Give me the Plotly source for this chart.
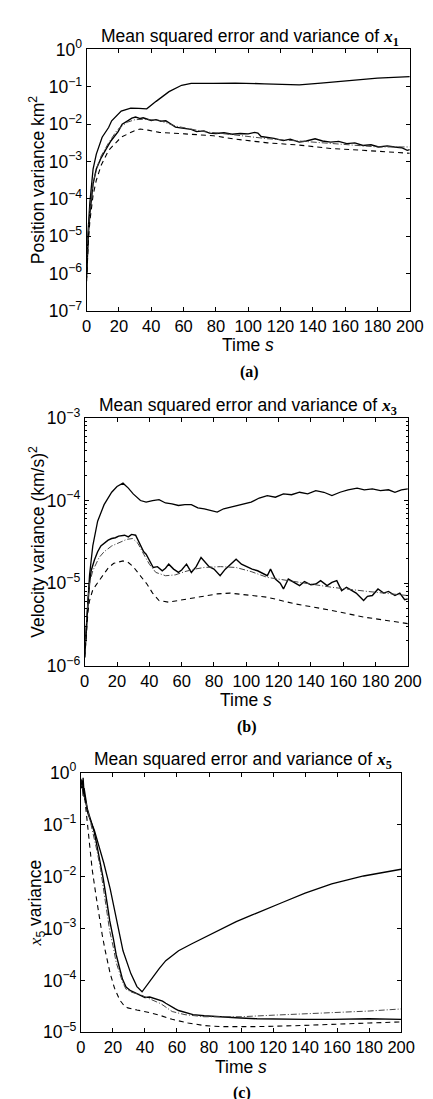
import numpy as np
import plotly.graph_objects as go

W, H = 433, 1099

# ---------------- Panel (a): x1, values given as log10 exponents ----------------
a_solid_t = [0, 0.5, 1, 2, 3, 4, 6, 9.6, 13.6, 15.5, 21.4, 27.3, 32.3, 37.2, 43, 51, 58.8, 64.7, 78.5, 92, 110, 131.6, 145, 161, 180, 200]
a_solid_log10 = [-6.0, -5.2, -4.8, -4.1, -3.6, -3.2, -2.8, -2.35, -2.09, -1.91, -1.65, -1.57, -1.58, -1.59, -1.39, -1.13, -0.96, -0.91, -0.91, -0.9, -0.92, -0.95, -0.9, -0.84, -0.77, -0.73]

a_mse_t = [0, 0.5, 1, 2, 3, 4, 6, 9, 11.6, 15, 19.5, 22, 25.4, 28, 30.3, 33.2, 35, 37.2, 40, 43, 46, 49, 52, 55, 58, 61, 64.7, 68, 72.6, 76, 80, 85, 90, 95, 100, 104, 106, 108, 112, 116, 121.7, 126, 131.6, 136, 141.4, 146, 151, 156, 161, 166, 171, 176, 180.7, 186, 190.6, 195, 198.4, 200]
a_mse_log10 = [-6.1, -5.4, -5.0, -4.4, -3.9, -3.6, -3.2, -2.9, -2.7, -2.45, -2.2, -2.0, -1.91, -1.84, -1.81, -1.85, -1.83, -1.86, -1.9, -1.88, -1.92, -1.91, -2.0, -2.08, -2.1, -2.12, -2.14, -2.2, -2.18, -2.24, -2.25, -2.23, -2.27, -2.25, -2.26, -2.22, -2.24, -2.33, -2.35, -2.38, -2.44, -2.4, -2.48, -2.45, -2.39, -2.45, -2.48, -2.46, -2.52, -2.5, -2.57, -2.55, -2.61, -2.58, -2.61, -2.63, -2.7, -2.68]

a_dashdot_t = [0, 0.5, 1, 2, 3, 4, 6, 9, 13.6, 19, 25, 30, 35, 40, 45, 55, 72.6, 90, 112, 131, 151, 170, 180, 200]
a_dashdot_log10 = [-5.8, -5.2, -4.9, -4.3, -3.9, -3.6, -3.2, -2.85, -2.5, -2.15, -1.95, -1.88, -1.87, -1.88, -1.9, -2.05, -2.2, -2.28, -2.39, -2.45, -2.52, -2.57, -2.61, -2.61]

a_dash_t = [0, 0.5, 1, 2, 3, 4, 6, 9, 13.6, 21.4, 29.3, 33.2, 38, 45, 60.8, 78.5, 92, 112, 131.6, 151, 171, 200]
a_dash_log10 = [-6.2, -5.6, -5.2, -4.6, -4.2, -3.9, -3.5, -3.1, -2.7, -2.35, -2.18, -2.13, -2.16, -2.22, -2.26, -2.31, -2.4, -2.5, -2.56, -2.65, -2.7, -2.78]

# ---------------- Panel (b): x3 ----------------
b_solid_t = [0, 1, 2, 3, 5, 8, 12, 16.7, 20, 23.7, 27, 30, 34.5, 38, 42, 46, 50, 54, 58, 62, 66, 70, 74, 78, 82, 86, 90, 93.6, 98, 103, 108, 113, 118, 123, 128, 133, 138, 143, 148, 153, 158, 163, 168.6, 173, 178, 183, 188, 192, 196, 200]
b_solid_log10 = [-5.85, -5.5, -5.2, -4.9, -4.55, -4.25, -4.05, -3.9, -3.83, -3.79, -3.85, -3.92, -4.0, -4.02, -4.0, -3.99, -4.03, -4.04, -4.06, -4.05, -4.05, -4.09, -4.1, -4.12, -4.14, -4.1, -4.08, -4.06, -4.04, -4.02, -3.97, -3.94, -3.96, -3.92, -3.93, -3.9, -3.92, -3.88, -3.9, -3.94, -3.9, -3.87, -3.85, -3.87, -3.86, -3.88, -3.87, -3.9, -3.87, -3.86]

b_mse_t = [0, 1, 2, 3, 4, 6, 8, 10, 12.8, 14.5, 16.7, 19, 21, 24.7, 27, 29, 31.5, 33, 35, 36.5, 38, 40, 42.4, 45, 48, 50, 52, 55, 58, 60, 63, 66, 69, 72, 74, 77, 80, 83.8, 87, 90, 93.7, 97, 100, 103.6, 107, 110, 113, 115, 118, 121, 123, 126, 130, 133, 136, 140, 143, 146, 150, 153, 156, 159, 162, 165, 168, 172.6, 175, 178, 181.5, 185, 188, 192, 195, 198, 200]
b_mse_log10 = [-5.9, -5.5, -5.25, -5.0, -4.85, -4.72, -4.62, -4.55, -4.5, -4.48, -4.46, -4.45, -4.43, -4.42, -4.44, -4.41, -4.42, -4.48, -4.56, -4.62, -4.65, -4.72, -4.81, -4.8, -4.85, -4.82, -4.77, -4.83, -4.87, -4.84, -4.77, -4.87, -4.8, -4.69, -4.73, -4.8, -4.83, -4.91, -4.83, -4.78, -4.71, -4.77, -4.8, -4.83, -4.85, -4.88, -4.91, -4.83, -4.95, -5.0, -5.07, -4.95, -5.0, -5.03, -4.98, -5.02, -5.01, -4.97, -5.03, -4.99, -4.97, -5.09, -5.05, -5.08, -5.12, -5.21, -5.16, -5.15, -5.07, -5.12, -5.1, -5.15, -5.12, -5.2, -5.19]

b_dashdot_t = [0, 1, 2, 3, 5, 8.9, 12, 16.7, 22, 26, 29.6, 33, 36.5, 40, 44, 50, 56, 62, 68, 74, 84, 93.6, 103, 113, 133, 153, 175, 200]
b_dashdot_log10 = [-5.85, -5.5, -5.2, -5.0, -4.85, -4.69, -4.62, -4.55, -4.5, -4.47, -4.46, -4.52, -4.65, -4.77, -4.87, -4.91, -4.9, -4.86, -4.83, -4.81, -4.8, -4.81, -4.86, -4.93, -4.99, -5.05, -5.1, -5.15]

b_dash_t = [0, 1, 2, 3, 5, 8.9, 12, 14.8, 18, 21, 23.7, 27, 30, 34, 38.5, 42, 46, 52, 58, 65, 74, 82, 89.8, 100, 113, 130, 153, 172.6, 190, 200]
b_dash_log10 = [-5.9, -5.6, -5.35, -5.21, -5.08, -4.97, -4.88, -4.81, -4.76, -4.74, -4.73, -4.75, -4.8, -4.9, -5.01, -5.12, -5.21, -5.23, -5.21, -5.18, -5.15, -5.13, -5.12, -5.14, -5.17, -5.25, -5.33, -5.41, -5.46, -5.49]

# ---------------- Panel (c): x5 ----------------
c_solid_t = [0, 0.5, 1, 1.4, 2, 3, 4.4, 8.4, 14.3, 18.3, 22.3, 26.3, 31.2, 35, 38.2, 41, 45, 49, 53, 57, 61, 69, 77, 87, 97, 107, 116.8, 125, 140, 156.6, 176.5, 190, 200]
c_solid_log10 = [-0.15, -0.2, -0.3, -0.1, -0.4, -0.6, -0.79, -1.11, -1.74, -2.24, -2.87, -3.43, -3.87, -4.12, -4.22, -4.1, -3.94, -3.77, -3.62, -3.52, -3.43, -3.3, -3.18, -3.03, -2.87, -2.74, -2.62, -2.51, -2.32, -2.14, -1.99, -1.92, -1.86]

c_mse_t = [0, 0.5, 1, 1.5, 2, 3, 4, 6, 8.4, 10, 12.3, 14, 16.3, 18, 20.3, 22, 24.3, 26, 28.2, 31, 34, 37, 40, 43, 45, 48, 51, 53, 56, 59, 61, 65, 70, 77, 85, 97, 110, 127, 140, 157, 180, 200]
c_mse_log10 = [-0.12, -0.3, -0.15, -0.45, -0.3, -0.55, -0.7, -0.9, -1.15, -1.4, -1.75, -2.05, -2.5, -2.85, -3.2, -3.5, -3.78, -3.98, -4.13, -4.2, -4.24, -4.28, -4.33, -4.32, -4.34, -4.36, -4.4, -4.44, -4.5, -4.55, -4.58, -4.62, -4.66, -4.68, -4.7, -4.72, -4.74, -4.75, -4.75, -4.75, -4.74, -4.75]

c_dashdot_t = [0, 0.5, 1, 2, 3.4, 6, 8.4, 10, 12.3, 14, 16.3, 18, 20.3, 22, 24.3, 26, 28.2, 31, 34, 37, 41, 45, 50, 57, 65, 77, 90, 100, 120, 137, 160, 180, 200]
c_dashdot_log10 = [-0.15, -0.25, -0.35, -0.5, -0.6, -0.95, -1.23, -1.5, -1.86, -2.2, -2.68, -3.05, -3.37, -3.65, -3.87, -4.03, -4.17, -4.22, -4.25, -4.27, -4.33, -4.38, -4.45, -4.6, -4.66, -4.7, -4.7, -4.7, -4.67, -4.65, -4.62, -4.59, -4.55]

c_dash_t = [0, 0.5, 1, 2.4, 4, 5.4, 7, 9.4, 11, 13.3, 15, 18.3, 21, 24.3, 27.3, 29.3, 35, 43, 50, 57, 67, 77, 87, 97, 110, 137, 160, 180, 200]
c_dash_log10 = [-0.15, -0.25, -0.3, -0.48, -0.95, -1.42, -1.85, -2.36, -2.7, -3.12, -3.4, -3.87, -4.15, -4.38, -4.5, -4.53, -4.57, -4.62, -4.68, -4.75, -4.82, -4.87, -4.89, -4.89, -4.89, -4.87, -4.85, -4.82, -4.8]

# ---------------- tick labels ----------------
x_ticks = [0, 20, 40, 60, 80, 100, 120, 140, 160, 180, 200]
a_yexp = [0, -1, -2, -3, -4, -5, -6, -7]
b_yexp = [-3, -4, -5, -6]
c_yexp = [0, -1, -2, -3, -4, -5]

titles = ["Mean squared error and variance of ", "Mean squared error and variance of ", "Mean squared error and variance of "]
title_sub = ["1", "3", "5"]
ylabels = ["Position variance km<sup>2</sup>", "Velocity variance (km/s)<sup>2</sup>",
           "<span style=\"font-family:'Liberation Serif'\"><i>x</i></span><sub>5</sub> variance"]
panel_tags = ["(a)", "(b)", "(c)"]

SANS = "Liberation Sans, Arial, sans-serif"
SERIF = "Liberation Serif, Times New Roman, serif"
FS = 17.5
XFS = 16.5

# geometry in pixels: (left, right, top, bottom)
boxes = [(77, 415, 30, 297), (75, 413, 406, 659), (71, 406, 768, 1033)]
yranges = [[-7, 0], [-6, -3], [-5, 0]]
yexps = [a_yexp, b_yexp, c_yexp]

series = [
    [(a_solid_t, a_solid_log10), (a_mse_t, a_mse_log10), (a_dashdot_t, a_dashdot_log10), (a_dash_t, a_dash_log10)],
    [(b_solid_t, b_solid_log10), (b_mse_t, b_mse_log10), (b_dashdot_t, b_dashdot_log10), (b_dash_t, b_dash_log10)],
    [(c_solid_t, c_solid_log10), (c_mse_t, c_mse_log10), (c_dashdot_t, c_dashdot_log10), (c_dash_t, c_dash_log10)],
]
styles = [
    dict(color="black", width=1.3, dash="solid"),
    dict(color="black", width=1.4, dash="solid"),
    dict(color="#444444", width=1.0, dash="6px,2px,1px,2px"),
    dict(color="black", width=1.1, dash="5px,4px"),
]

fig = go.Figure()
layout = dict(width=W, height=H, margin=dict(l=0, r=0, t=0, b=0),
              paper_bgcolor="white", plot_bgcolor="white", showlegend=False,
              font=dict(family=SANS, size=FS, color="black"))
annotations = []

for i in range(3):
    l, r, t, b = boxes[i]
    xs = "" if i == 0 else str(i + 1)
    xa, ya = "xaxis" + xs, "yaxis" + xs
    for (tt, vv), st in zip(series[i], styles):
        fig.add_trace(go.Scatter(x=tt, y=10 ** np.array(vv), mode="lines", line=st,
                                 xaxis="x" + xs, yaxis="y" + xs, hoverinfo="skip"))
    layout[xa] = dict(domain=[l / W, r / W], range=[0, 200], anchor="y" + xs,
                      tickvals=x_ticks, ticktext=[str(v) for v in x_ticks],
                      ticks="inside", ticklen=4, tickcolor="black", showline=True,
                      linecolor="black", linewidth=1, mirror="ticks", showgrid=False,
                      zeroline=False, tickfont=dict(family=SANS, size=XFS), ticklabelstandoff=0)
    ye = yexps[i]
    minor = {}
    if i == 1:
        mv = [m * 10.0 ** e for e in (-6, -5, -4) for m in range(2, 10)]
        minor = dict(tickvals=mv, ticks="inside", ticklen=2, tickcolor="black", showgrid=False)
    layout[ya] = dict(domain=[1 - b / H, 1 - t / H], type="log", range=yranges[i],
                      anchor="x" + xs, tickvals=[10.0 ** e for e in ye],
                      ticktext=["10<sup>%s</sup>" % (str(e).replace("-", "\u2212")) for e in ye],
                      ticks="inside", ticklen=4, tickcolor="black", showline=True,
                      linecolor="black", linewidth=1, mirror="ticks", showgrid=False,
                      zeroline=False, tickfont=dict(family=SANS, size=FS), minor=minor)
    cx = (l + r) / 2
    # title
    annotations.append(dict(
        text=titles[i] + "<span style=\"font-family:'Liberation Serif'\"><b><i>x</i><sub>" + title_sub[i] + "</sub></b></span>",
        x=(cx + 2) / W, y=1 - (t - 12) / H, xref="paper", yref="paper",
        xanchor="center", yanchor="middle", showarrow=False, font=dict(family=SANS, size=FS)))
    # x label
    annotations.append(dict(text="Time <i>s</i>", x=cx / W, y=1 - (b + 35) / H, xref="paper", yref="paper",
                            xanchor="center", yanchor="middle", showarrow=False, font=dict(family=SANS, size=FS)))
    # y label
    annotations.append(dict(text=ylabels[i], x=25 / W, y=1 - ((t + b) / 2) / H, xref="paper", yref="paper",
                            xanchor="center", yanchor="middle", textangle=-90, showarrow=False,
                            font=dict(family=SANS, size=FS)))
    # panel tag
    annotations.append(dict(text="<b>" + panel_tags[i] + "</b>", x=(cx + 1) / W, y=1 - (b + 62) / H,
                            xref="paper", yref="paper", xanchor="center", yanchor="middle",
                            showarrow=False, font=dict(family=SERIF, size=16)))

layout["annotations"] = annotations
fig.update_layout(**layout)
fig.write_html("out.html")
